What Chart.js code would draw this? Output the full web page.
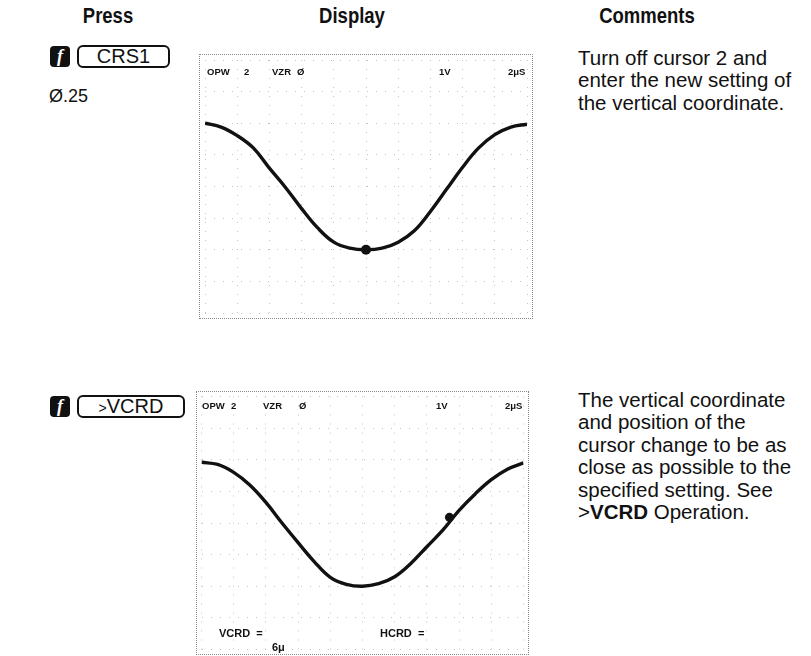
<!DOCTYPE html>
<html lang="en">
<head>
<meta charset="UTF-8">
<title>CRS1 / VCRD display</title>
<script src="https://cdn.jsdelivr.net/npm/chart.js"></script>
<style>
  body { margin: 0; background: #fff; color: #111; font-family: "Liberation Sans", Arial, sans-serif; }
  #page { position: relative; width: 811px; height: 656px; overflow: hidden; background: #fff; }
  .hdr { position: absolute; top: 4px; width: 160px; margin-left: -80px; text-align: center;
         font-weight: bold; font-size: 21.5px; transform: scaleX(0.86); }
  .fkey { position: absolute; width: 20px; height: 21px; background: #111; border-radius: 4px; color: #fff;
          font: italic bold 18px "Liberation Serif", serif; text-align: center; line-height: 21px; }
  .key { position: absolute; height: 19px; border: 2px solid #111; border-radius: 6px; text-align: center;
         font-size: 20px; line-height: 19px; }
  .entry { position: absolute; font-size: 18px; }
  .comment { position: absolute; left: 578px; font-size: 20.5px; line-height: 22.4px; white-space: nowrap; }
  .screen { position: absolute; border: 1px dotted #888; }
  .screen canvas { display: block; }
  .lbl { position: absolute; font: bold 9.5px "Liberation Sans", Arial, sans-serif; white-space: nowrap; }
  .lbl2 { position: absolute; font: bold 11px "Liberation Sans", Arial, sans-serif; white-space: nowrap; }
</style>
</head>
<body>
<div id="page">
  <div class="hdr" style="left:108px">Press</div>
  <div class="hdr" style="left:352px">Display</div>
  <div class="hdr" style="left:647px">Comments</div>

  <!-- step 1 -->
  <div class="fkey" style="left:50px; top:46px">f</div>
  <div class="key" style="left:77px; top:45px; width:89px">CRS1</div>
  <div class="entry" style="left:49px; top:86px">Ø.25</div>
  <div class="comment" style="top:47px">Turn off cursor 2 and<br>enter the new setting of<br>the vertical coordinate.</div>

  <div class="screen" style="left:199px; top:54px">
    <canvas id="scr1" width="332" height="263"></canvas>
  </div>
  <div class="lbl" style="left:207px; top:66px">OPW</div>
  <div class="lbl" style="left:244px; top:66px">2</div>
  <div class="lbl" style="left:272px; top:66px">VZR</div>
  <div class="lbl" style="left:297px; top:66px">Ø</div>
  <div class="lbl" style="left:439px; top:66px">1V</div>
  <div class="lbl" style="left:508px; top:66px">2μS</div>

  <!-- step 2 -->
  <div class="fkey" style="left:50px; top:396px">f</div>
  <div class="key" style="left:77px; top:395px; width:104px"><span style="font-size:14px">&gt;</span>VCRD</div>
  <div class="comment" style="top:389px">The vertical coordinate<br>and position of the<br>cursor change to be as<br>close as possible to the<br>specified setting. See<br>&gt;<b>VCRD</b> Operation.</div>

  <div class="screen" style="left:196px; top:391px">
    <canvas id="scr2" width="331" height="262"></canvas>
  </div>
  <div class="lbl" style="left:202px; top:400px">OPW</div>
  <div class="lbl" style="left:231px; top:400px">2</div>
  <div class="lbl" style="left:263px; top:400px">VZR</div>
  <div class="lbl" style="left:299px; top:400px">Ø</div>
  <div class="lbl" style="left:436px; top:400px">1V</div>
  <div class="lbl" style="left:505px; top:400px">2μS</div>
  <div class="lbl2" style="left:219px; top:627px">VCRD &nbsp;=</div>
  <div class="lbl2" style="left:380px; top:627px">HCRD &nbsp;=</div>
  <div class="lbl2" style="left:272px; top:641px">6μ</div>
</div>

<script>
  // horizontal position in screen divisions (10 across), vertical in divisions (1V/div, centre = 0)
  const divX = [0, 0.5, 1, 1.5, 2, 2.5, 3, 3.5, 4, 4.5, 5, 5.5, 6, 6.5, 7, 7.5, 8, 8.5, 9, 9.5, 10];

  // trace before >VCRD
  const trace1 = [2.0, 1.88, 1.61, 1.22, 0.58, -0.03, -0.70, -1.31, -1.76, -1.95, -2.0,
                  -1.95, -1.76, -1.40, -0.79, -0.09, 0.61, 1.22, 1.64, 1.88, 1.97];
  const cursor1 = { x: 5.0, y: -2.0 };

  // trace after >VCRD
  const trace2 = [1.92, 1.85, 1.60, 1.20, 0.65, 0.0, -0.62, -1.22, -1.72, -1.94, -2.0,
                  -1.92, -1.70, -1.28, -0.75, -0.22, 0.40, 0.92, 1.37, 1.70, 1.90];
  const cursor2 = { x: 7.7, y: 0.18 };

  function points(ys) {
    return divX.map((x, i) => ({ x: x, y: ys[i] }));
  }

  function drawScreen(id, ys, cursor, dotR) {
    const gridStyle = {
      grid: { color: '#c4c4c4', lineWidth: 1, drawTicks: false },
      border: { display: false, dash: [1, 8] },
      ticks: { display: false, stepSize: 1 }
    };
    new Chart(document.getElementById(id), {
      type: 'scatter',
      data: {
        datasets: [
          {
            data: points(ys),
            showLine: true,
            borderColor: '#111',
            borderWidth: 3.4,
            pointRadius: 0,
            tension: 0.4
          },
          {
            data: [cursor],
            pointRadius: dotR,
            pointBackgroundColor: '#111',
            pointBorderWidth: 0
          }
        ]
      },
      options: {
        responsive: false,
        animation: false,
        layout: { padding: 0 },
        plugins: { legend: { display: false }, tooltip: { enabled: false } },
        scales: {
          x: Object.assign({ type: 'linear', min: 0, max: 10 }, gridStyle),
          y: Object.assign({ type: 'linear', min: -4, max: 4 }, gridStyle)
        }
      }
    });
  }

  drawScreen('scr1', trace1, cursor1, 5);
  drawScreen('scr2', trace2, cursor2, 4.5);
</script>
</body>
</html>
